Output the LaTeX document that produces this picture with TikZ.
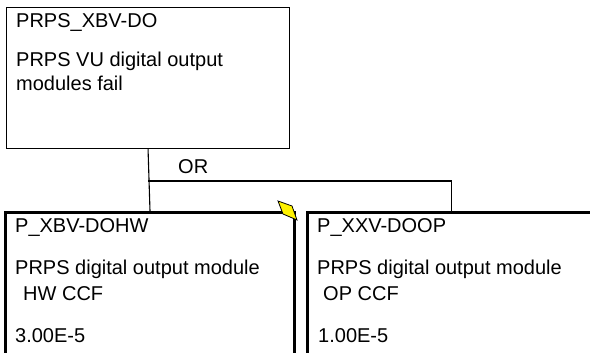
\documentclass[tikz,border=0pt]{standalone}
\usepackage{fontspec}
\setmainfont{Liberation Sans}
\begin{document}
\begin{tikzpicture}[x=1pt,y=-1pt,
  thinbox/.style={draw=black,line width=1.1pt,fill=white,inner sep=0pt,anchor=north west},
  thickbox/.style={draw=black,line width=3pt,fill=white,inner sep=0pt,anchor=north west},
  txt/.style={anchor=base west,inner sep=0pt,font=\fontsize{20}{24}\selectfont},
  conn/.style={draw=black,line width=1.1pt}]
\useasboundingbox (0,0) rectangle (590,353);
\clip (0,0) rectangle (590,353);
\fill[white] (0,0) rectangle (590,353);
% boxes
\node[thinbox,minimum width=283pt,minimum height=141pt] (top) at (6,7) {};
\node[thickbox,minimum width=289pt,minimum height=180pt] (left) at (4,211) {};
\node[thickbox,minimum width=288pt,minimum height=180pt] (right) at (306,211) {};
% connectors
\coordinate (j) at (148,181);
\draw[conn] (top.south) -- (left.north);
\draw[conn] (j) -| (right.north);
% OR gate label
\node[txt] (or) at (178,173) {OR};
% top texts
\node[txt] (t1) at (16,28) {PRPS\_XBV-DO};
\node[txt] (t2) at (16,67) {PRPS VU digital output};
\node[txt] (t3) at (16,91) {modules fail};
% left texts
\node[txt] (l1) at (15,233) {P\_XBV-DOHW};
\node[txt] (l2) at (15,274) {PRPS digital output module};
\node[txt] (l3) at (23,300) {HW CCF};
\node[txt] (l4) at (15,342) {3.00E-5};
% right texts
\node[txt] (r1) at (317,233) {P\_XXV-DOOP};
\node[txt] (r2) at (317,274) {PRPS digital output module};
\node[txt] (r3) at (323,300) {OP CCF};
\node[txt] (r4) at (318,342) {1.00E-5};
% yellow marker
\draw[fill=yellow,draw=black,line width=0.8pt] (278,201) -- (292,206) -- (297,220) -- (283,214) -- cycle;
\end{tikzpicture}
\end{document}
